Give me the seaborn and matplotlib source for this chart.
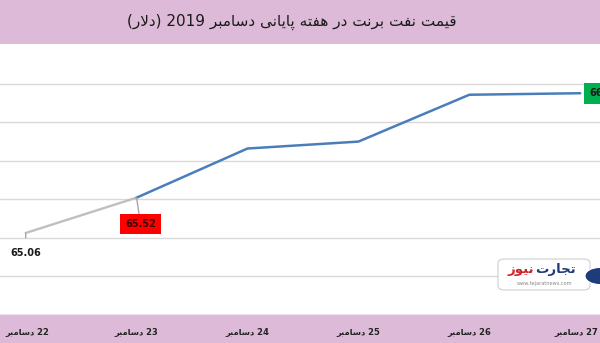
import numpy as np
import pandas as pd
import matplotlib
matplotlib.use("Agg")
import matplotlib.pyplot as plt
from matplotlib.patches import Rectangle, FancyBboxPatch, Circle
from matplotlib.transforms import ScaledTranslation
import seaborn as sns

# ---------------- data ----------------
title_text = "قیمت نفت برنت در هفته پایانی دسامبر 2019 (دلار)"
dates = ["22 دسامبر", "23 دسامبر", "24 دسامبر", "25 دسامبر", "26 دسامبر", "27 دسامبر"]
prices = [65.06, 65.52, 66.16, 66.25, 66.86, 66.88]
label_first = "65.06"
label_low = "65.52"
label_last = "66.88"
logo_a = "تجارت"
logo_b = "نیوز"
logo_url = "www.tejaratnews.com"

# ------------- minimal Arabic/Persian shaping (presentation forms) -------------
FORMS = {  # isolated, final, initial, medial
    'ا': ('\uFE8D', '\uFE8E', None, None),
    'ب': ('\uFE8F', '\uFE90', '\uFE91', '\uFE92'),
    'پ': ('\uFB56', '\uFB57', '\uFB58', '\uFB59'),
    'ت': ('\uFE95', '\uFE96', '\uFE97', '\uFE98'),
    'ج': ('\uFE9D', '\uFE9E', '\uFE9F', '\uFEA0'),
    'د': ('\uFEA9', '\uFEAA', None, None),
    'ر': ('\uFEAD', '\uFEAE', None, None),
    'ز': ('\uFEAF', '\uFEB0', None, None),
    'س': ('\uFEB1', '\uFEB2', '\uFEB3', '\uFEB4'),
    'ف': ('\uFED1', '\uFED2', '\uFED3', '\uFED4'),
    'ق': ('\uFED5', '\uFED6', '\uFED7', '\uFED8'),
    'ل': ('\uFEDD', '\uFEDE', '\uFEDF', '\uFEE0'),
    'م': ('\uFEE1', '\uFEE2', '\uFEE3', '\uFEE4'),
    'ن': ('\uFEE5', '\uFEE6', '\uFEE7', '\uFEE8'),
    'ه': ('\uFEE9', '\uFEEA', '\uFEEB', '\uFEEC'),
    'و': ('\uFEED', '\uFEEE', None, None),
    'ی': ('\uFBFC', '\uFBFD', '\uFBFE', '\uFBFF'),
}


def joins_left(c):
    return c in FORMS and FORMS[c][2] is not None


def shape_word(w):
    chars = list(w)
    res = []
    i = 0
    n = len(chars)
    while i < n:
        c = chars[i]
        prev = chars[i - 1] if i > 0 else None
        jp = prev is not None and joins_left(prev)
        if c == 'ل' and i + 1 < n and chars[i + 1] == 'ا':
            res.append('\uFEFC' if jp else '\uFEFB')
            i += 2
            continue
        if c not in FORMS:
            res.append(c)
            i += 1
            continue
        nxt = chars[i + 1] if i + 1 < n else None
        jn = nxt is not None and nxt in FORMS and joins_left(c)
        iso, fin, ini, med = FORMS[c]
        if jp and jn:
            res.append(med)
        elif jp:
            res.append(fin)
        elif jn:
            res.append(ini)
        else:
            res.append(iso)
        i += 1
    return ''.join(res)


def rtl(text):
    vis = []
    for t in text.split(' '):
        if any(ch in FORMS for ch in t):
            lead = trail = ''
            core = t
            if core.startswith('('):
                lead, core = '(', core[1:]
            if core.endswith(')'):
                trail, core = ')', core[:-1]
            vis.append(lead + shape_word(core)[::-1] + trail)
        else:
            vis.append(t)
    return ' '.join(vis[::-1])


# ---------------- figure ----------------
sns.set_theme(style="white")
plt.rcParams['font.family'] = ['DejaVu Sans']

W, H = 600, 343
fig = plt.figure(figsize=(6.0, 3.43), dpi=100)
fig.patch.set_facecolor("white")

band = "#DDBBD8"
fig.add_artist(Rectangle((0, 1 - 44 / H), 1, 44 / H, transform=fig.transFigure,
                         facecolor=band, edgecolor="none", zorder=-1))
fig.add_artist(Rectangle((0, 0), 1, 28 / H, transform=fig.transFigure,
                         facecolor=band, edgecolor="none", zorder=-1))
fig.add_artist(Rectangle((0, 28 / H), 1, 1.2 / H, transform=fig.transFigure,
                         facecolor="#ECE4EA", edgecolor="none", zorder=-1))

ax_bottom = 28.6 / H
ax_top = 297.4 / H
ax = fig.add_axes([0, ax_bottom, 1, ax_top - ax_bottom])
ax.set_facecolor("none")

idx = np.arange(len(dates))
df = pd.DataFrame({"pos": idx, "price": prices})

sns.lineplot(data=df.iloc[:2], x="pos", y="price", ax=ax, color="#BFBFBF",
             linewidth=1.7, zorder=3)
sns.lineplot(data=df.iloc[1:], x="pos", y="price", ax=ax, color="#4A7EBB",
             linewidth=1.8, zorder=4)

x0 = 25.7
step = 110.9
ax.set_xlim(-x0 / step, (W - x0) / step)
ax.set_ylim(64.0, 67.5)
ax.set_yticks([64.5, 65.0, 65.5, 66.0, 66.5, 67.0])
ax.yaxis.grid(True, color="#D9D9D9", linewidth=1.0)
ax.xaxis.grid(False)
ax.tick_params(axis="y", left=False, labelleft=False)
ax.set_xticks(idx)
ax.set_xticklabels([rtl(d) for d in dates], fontsize=6.0, fontweight="bold",
                   color="#222222")
ax.tick_params(axis="x", length=0, pad=9.5)
lbls = ax.get_xticklabels()
lbls[-1].set_transform(lbls[-1].get_transform() +
                       ScaledTranslation(-4 / 100, 0, fig.dpi_scale_trans))
lbls[0].set_transform(lbls[0].get_transform() +
                      ScaledTranslation(1.5 / 100, 0, fig.dpi_scale_trans))
for s in ax.spines.values():
    s.set_visible(False)
ax.set_xlabel("")
ax.set_ylabel("")

# data labels
ax.annotate(label_first, xy=(idx[0], prices[0]), xytext=(0, -14.5),
            textcoords="offset points", ha="center", va="center",
            fontsize=7, fontweight="bold", color="#1a1a1a",
            arrowprops=dict(arrowstyle="-", color="#A6A6A6", lw=1,
                            shrinkA=5, shrinkB=0), zorder=6)
ax.annotate(label_low, xy=(idx[1], prices[1]), xytext=(2.8, -19),
            textcoords="offset points", ha="center", va="center",
            fontsize=7, fontweight="bold", color="#3a0000",
            bbox=dict(boxstyle="square,pad=0.55", facecolor="#FF0000",
                      edgecolor="none"),
            arrowprops=dict(arrowstyle="-", color="#A6A6A6", lw=1,
                            shrinkA=0, shrinkB=0), zorder=6)
ax.annotate(label_last, xy=(idx[-1], prices[-1]), xytext=(6.3, 0),
            textcoords="offset points", ha="left", va="center",
            fontsize=7, fontweight="bold", color="#1a1a1a",
            bbox=dict(boxstyle="square,pad=0.55", facecolor="#00B050",
                      edgecolor="none"), zorder=6, annotation_clip=False)

# title
fig.text(292 / W, 1 - 22 / H, rtl(title_text), ha="center", va="center",
         fontsize=11, color="#1a1a1a")

# watermark logo
fig.add_artist(FancyBboxPatch((498 / W, 1 - 290 / H), 92 / W, 31 / H,
                              boxstyle="round,pad=0,rounding_size=0.012",
                              transform=fig.transFigure, facecolor="white",
                              edgecolor="#CFCFCF", linewidth=0.8, zorder=5))
fig.text(534 / W, 1 - 270 / H, rtl(logo_b), ha="right", va="center",
         fontsize=9.5, fontweight="bold", color="#D2232A", zorder=6)
fig.text(535 / W, 1 - 270 / H, rtl(logo_a), ha="left", va="center",
         fontsize=9.5, fontweight="bold", color="#1F3C7A", zorder=6)
fig.text(545 / W, 1 - 283.5 / H, logo_url, ha="center", va="center",
         fontsize=3.6, color="#888888", zorder=6)
fig.add_artist(Circle((600 / W, 1 - 276 / H), 0.025, transform=fig.transFigure,
                      facecolor="#1F3C7A", edgecolor="white", linewidth=0.8,
                      zorder=6))

fig.savefig("out.png", dpi=100, facecolor="white")
